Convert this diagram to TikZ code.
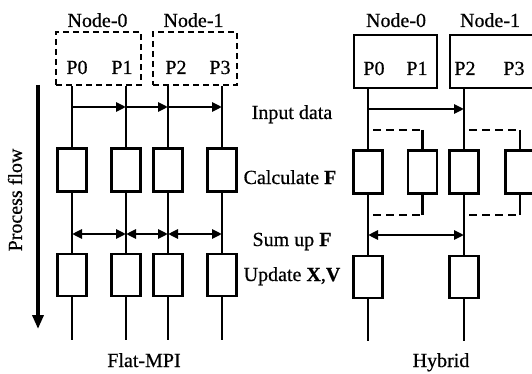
\documentclass[tikz,border=0pt]{standalone}
\usepackage{fontspec}
\setmainfont{Liberation Serif}[FakeBold=0.6]
\usepackage{xcolor}
\definecolor{cLine}{HTML}{000000}
\usepackage{tikz}
\usetikzlibrary{positioning,arrows.meta}
\tikzset{
  proc-box/.style={draw=cLine,line width=2.6pt,minimum width=29pt,
    minimum height=43pt,inner sep=0pt},
  node-group/.style={draw=cLine,line width=2.4pt,inner sep=0pt},
  node-group-dashed/.style={node-group,dash pattern=on 6pt off 4pt},
  lbl/.style={font=\fontsize{20}{24}\selectfont,inner sep=0pt,anchor=base},
  flow-line/.style={draw=cLine,line width=2.5pt},
  arrow/.style={-{Triangle[length=10pt,width=9pt]},line width=2.5pt,draw=cLine},
  arrow-both/.style={{Triangle[length=10pt,width=9pt]}-{Triangle[length=10pt,width=9pt]},
    line width=2.5pt,draw=cLine},
  % dashed hand-over between the two threads of one node
  link-dashed/.style={draw=cLine,line width=2.5pt,dash pattern=on 8pt off 5pt,dash phase=8pt},
  arrow-flow/.style={-{Triangle[length=14pt,width=11pt]},line width=3.4pt,draw=cLine},
}
\begin{document}
\begin{tikzpicture}[x=1pt,y=-1pt]
  \useasboundingbox (0,0) rectangle (532,374);
  % process flow
  \coordinate (pf-top) at (38,85);
  \coordinate (pf-end) at (38,329);
  \draw[arrow-flow] (pf-top) -- (pf-end);
  \node[lbl,anchor=center,rotate=90] (pf) at (15,200) {Process flow};

  % Flat-MPI
  \node[node-group-dashed,minimum width=85pt,minimum height=53pt] (fg0) at (98.5,58.5) {};
  \node[node-group-dashed,minimum width=84pt,minimum height=53pt] (fg1) at (195,58.5) {};
  \node[lbl] (fn0) at (97.5,27) {Node-0};
  \node[lbl] (fn1) at (193.5,27) {Node-1};
  \node[lbl] (fp0) at (77,74) {P0};
  \node[lbl] (fp1) at (122,74) {P1};
  \node[lbl] (fp2) at (176,74) {P2};
  \node[lbl] (fp3) at (220,74) {P3};
  \node[proc-box] (fc0) at (72,170) {};
  \node[proc-box] (fc1) at (126,170) {};
  \node[proc-box] (fc2) at (168,170) {};
  \node[proc-box] (fc3) at (222,170) {};
  \node[proc-box,minimum height=42pt] (fu0) at (72,275) {};
  \node[proc-box,minimum height=42pt] (fu1) at (126,275) {};
  \node[proc-box,minimum height=42pt] (fu2) at (168,275) {};
  \node[proc-box,minimum height=42pt] (fu3) at (222,275) {};
  \coordinate (fe0) at (72,340);
  \coordinate (fe1) at (126,340);
  \coordinate (fe2) at (168,340);
  \coordinate (fe3) at (222,340);
  \draw[flow-line] (fg0.south -| fc0) -- (fc0.north) (fc0.south) -- (fu0.north) (fu0.south) -- (fe0);
  \draw[flow-line] (fg0.south -| fc1) -- (fc1.north) (fc1.south) -- (fu1.north) (fu1.south) -- (fe1);
  \draw[flow-line] (fg1.south -| fc2) -- (fc2.north) (fc2.south) -- (fu2.north) (fu2.south) -- (fe2);
  \draw[flow-line] (fg1.south -| fc3) -- (fc3.north) (fc3.south) -- (fu3.north) (fu3.south) -- (fe3);
  \coordinate (f-in) at (72,107);
  \coordinate (f-sum) at (72,234);
  \draw[arrow] (fc0 |- f-in) -- (fc1 |- f-in);
  \draw[arrow] (fc1 |- f-in) -- (fc2 |- f-in);
  \draw[arrow] (fc2 |- f-in) -- (fc3 |- f-in);
  \draw[arrow-both] (fc0 |- f-sum) -- (fc1 |- f-sum);
  \draw[arrow-both] (fc1 |- f-sum) -- (fc2 |- f-sum);
  \draw[arrow-both] (fc2 |- f-sum) -- (fc3 |- f-sum);
  \node[lbl] (flat) at (144,367) {Flat-MPI};

  % step labels
  \node[lbl] (s-in) at (292,119) {Input data};
  \node[lbl] (s-calc) at (290,184) {Calculate \textbf{F}};
  \node[lbl] (s-sum) at (292,246) {Sum up \textbf{F}};
  \node[lbl] (s-upd) at (292,281) {Update \textbf{X},\textbf{V}};

  % Hybrid
  \node[node-group,minimum width=83pt,minimum height=53pt] (hg0) at (395.5,61.5) {};
  \node[node-group,minimum width=85pt,minimum height=53pt] (hg1) at (492.5,61.5) {};
  \node[lbl] (hn0) at (396,27) {Node-0};
  \node[lbl] (hn1) at (490,27) {Node-1};
  \node[lbl] (hp0) at (374,75) {P0};
  \node[lbl] (hp1) at (417,75) {P1};
  \node[lbl] (hp2) at (465,75) {P2};
  \node[lbl] (hp3) at (514,75) {P3};
  \node[proc-box] (hc0) at (368,172) {};
  \node[proc-box] (hc1) at (422.5,172) {};
  \node[proc-box] (hc2) at (464,172) {};
  \node[proc-box] (hc3) at (520,172) {};
  \node[proc-box,minimum height=42pt] (hu0) at (368,277) {};
  \node[proc-box,minimum height=42pt] (hu2) at (464,277) {};
  \coordinate (he0) at (368,341);
  \coordinate (he2) at (464,341);
  \draw[flow-line] (hg0.south -| hc0) -- (hc0.north) (hc0.south) -- (hu0.north) (hu0.south) -- (he0);
  \draw[flow-line] (hg1.south -| hc2) -- (hc2.north) (hc2.south) -- (hu2.north) (hu2.south) -- (he2);
  \coordinate (h-in) at (368,109);
  \coordinate (h-fork) at (368,130);
  \coordinate (h-join) at (368,215);
  \coordinate (h-sum) at (368,235);
  \draw[arrow] (hc0 |- h-in) -- (hc2 |- h-in);
  \draw[arrow-both] (hc0 |- h-sum) -- (hc2 |- h-sum);
  \draw[link-dashed] (hc0 |- h-fork) -- (hc1 |- h-fork);
  \draw[flow-line] (hc1 |- h-fork) -- (hc1.north);
  \draw[link-dashed] (hc0 |- h-join) -- (hc1 |- h-join);
  \draw[flow-line] (hc1 |- h-join) -- (hc1.south);
  \draw[link-dashed] (hc2 |- h-fork) -- (hc3 |- h-fork);
  \draw[flow-line] (hc3 |- h-fork) -- (hc3.north);
  \draw[link-dashed] (hc2 |- h-join) -- (hc3 |- h-join);
  \draw[flow-line] (hc3 |- h-join) -- (hc3.south);
  \node[lbl] (hybrid) at (441,367) {Hybrid};
\end{tikzpicture}
\end{document}
